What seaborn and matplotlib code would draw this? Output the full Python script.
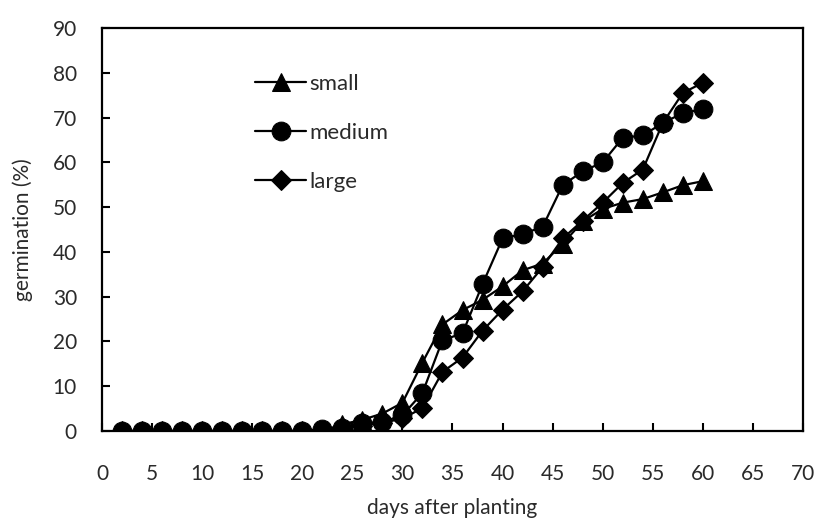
import pandas as pd
import matplotlib.pyplot as plt
import seaborn as sns

# days after planting (every 2 days)
days = list(range(2, 62, 2))

# germination (%) per seed size
small = [0, 0, 0, 0, 0, 0, 0, 0, 0, 0, 0, 1.5, 2.5, 3.9, 6.3, 15.3,
         23.8, 27.0, 29.3, 32.3, 35.9, 37.4, 41.8, 46.8, 49.6, 51.0, 51.8, 53.3, 54.9, 55.8]
medium = [0, 0, 0, 0, 0, 0, 0, 0, 0, 0, 0.5, 0.7, 1.8, 2.0, 3.5, 8.5,
          20.3, 21.8, 32.8, 43.0, 44.0, 45.6, 54.9, 58.0, 60.0, 65.5, 66.0, 68.8, 71.0, 71.9]
large = [0, 0, 0, 0, 0, 0, 0, 0, 0, 0, 0, 0.5, 1.2, 1.8, 2.8, 5.1,
         13.2, 16.4, 22.4, 27.1, 31.2, 36.6, 43.0, 47.0, 51.0, 55.4, 58.4, 68.8, 75.5, 77.8]

series_names = ['small', 'medium', 'large']
series_values = [small, medium, large]
marker_styles = {'small': ('^', 13), 'medium': ('o', 13.5), 'large': ('D', 10)}

sns.set_style('ticks')
plt.rcParams['font.family'] = ['Lato', 'DejaVu Sans']
text_col = '#2a2a2a'

fig = plt.figure(figsize=(8.19, 5.22), dpi=100)
ax = fig.add_axes([0.1245, 0.1743, 0.856, 0.772])

for name, vals in zip(series_names, series_values):
    df = pd.DataFrame({'days': days, 'germination': vals})
    m, ms = marker_styles[name]
    sns.lineplot(data=df, x='days', y='germination', ax=ax, color='black',
                 marker=m, markersize=ms, markeredgecolor='black',
                 linewidth=1.6, label=name)

ax.set_xlim(0, 70)
ax.set_ylim(0, 90)
ax.set_xticks(range(0, 75, 5))
ax.set_yticks(range(0, 100, 10))
ax.tick_params(direction='in', length=6, width=1.5, labelsize=15, color='black',
               labelcolor=text_col)
ax.tick_params(axis='x', pad=24)
ax.tick_params(axis='y', pad=18)
for s in ax.spines.values():
    s.set_linewidth(1.6)
    s.set_color('black')

ax.set_xlabel('days after planting', fontsize=15, labelpad=10, color=text_col)
ax.set_ylabel('germination (%)', fontsize=15, labelpad=14, color=text_col)

leg = ax.legend(loc='upper left', bbox_to_anchor=(0.19, 0.935), frameon=False,
                handlelength=2.3, handletextpad=0.15, labelspacing=1.3, fontsize=16)
for t in leg.get_texts():
    t.set_color(text_col)

plt.savefig('out.png', dpi=100)
